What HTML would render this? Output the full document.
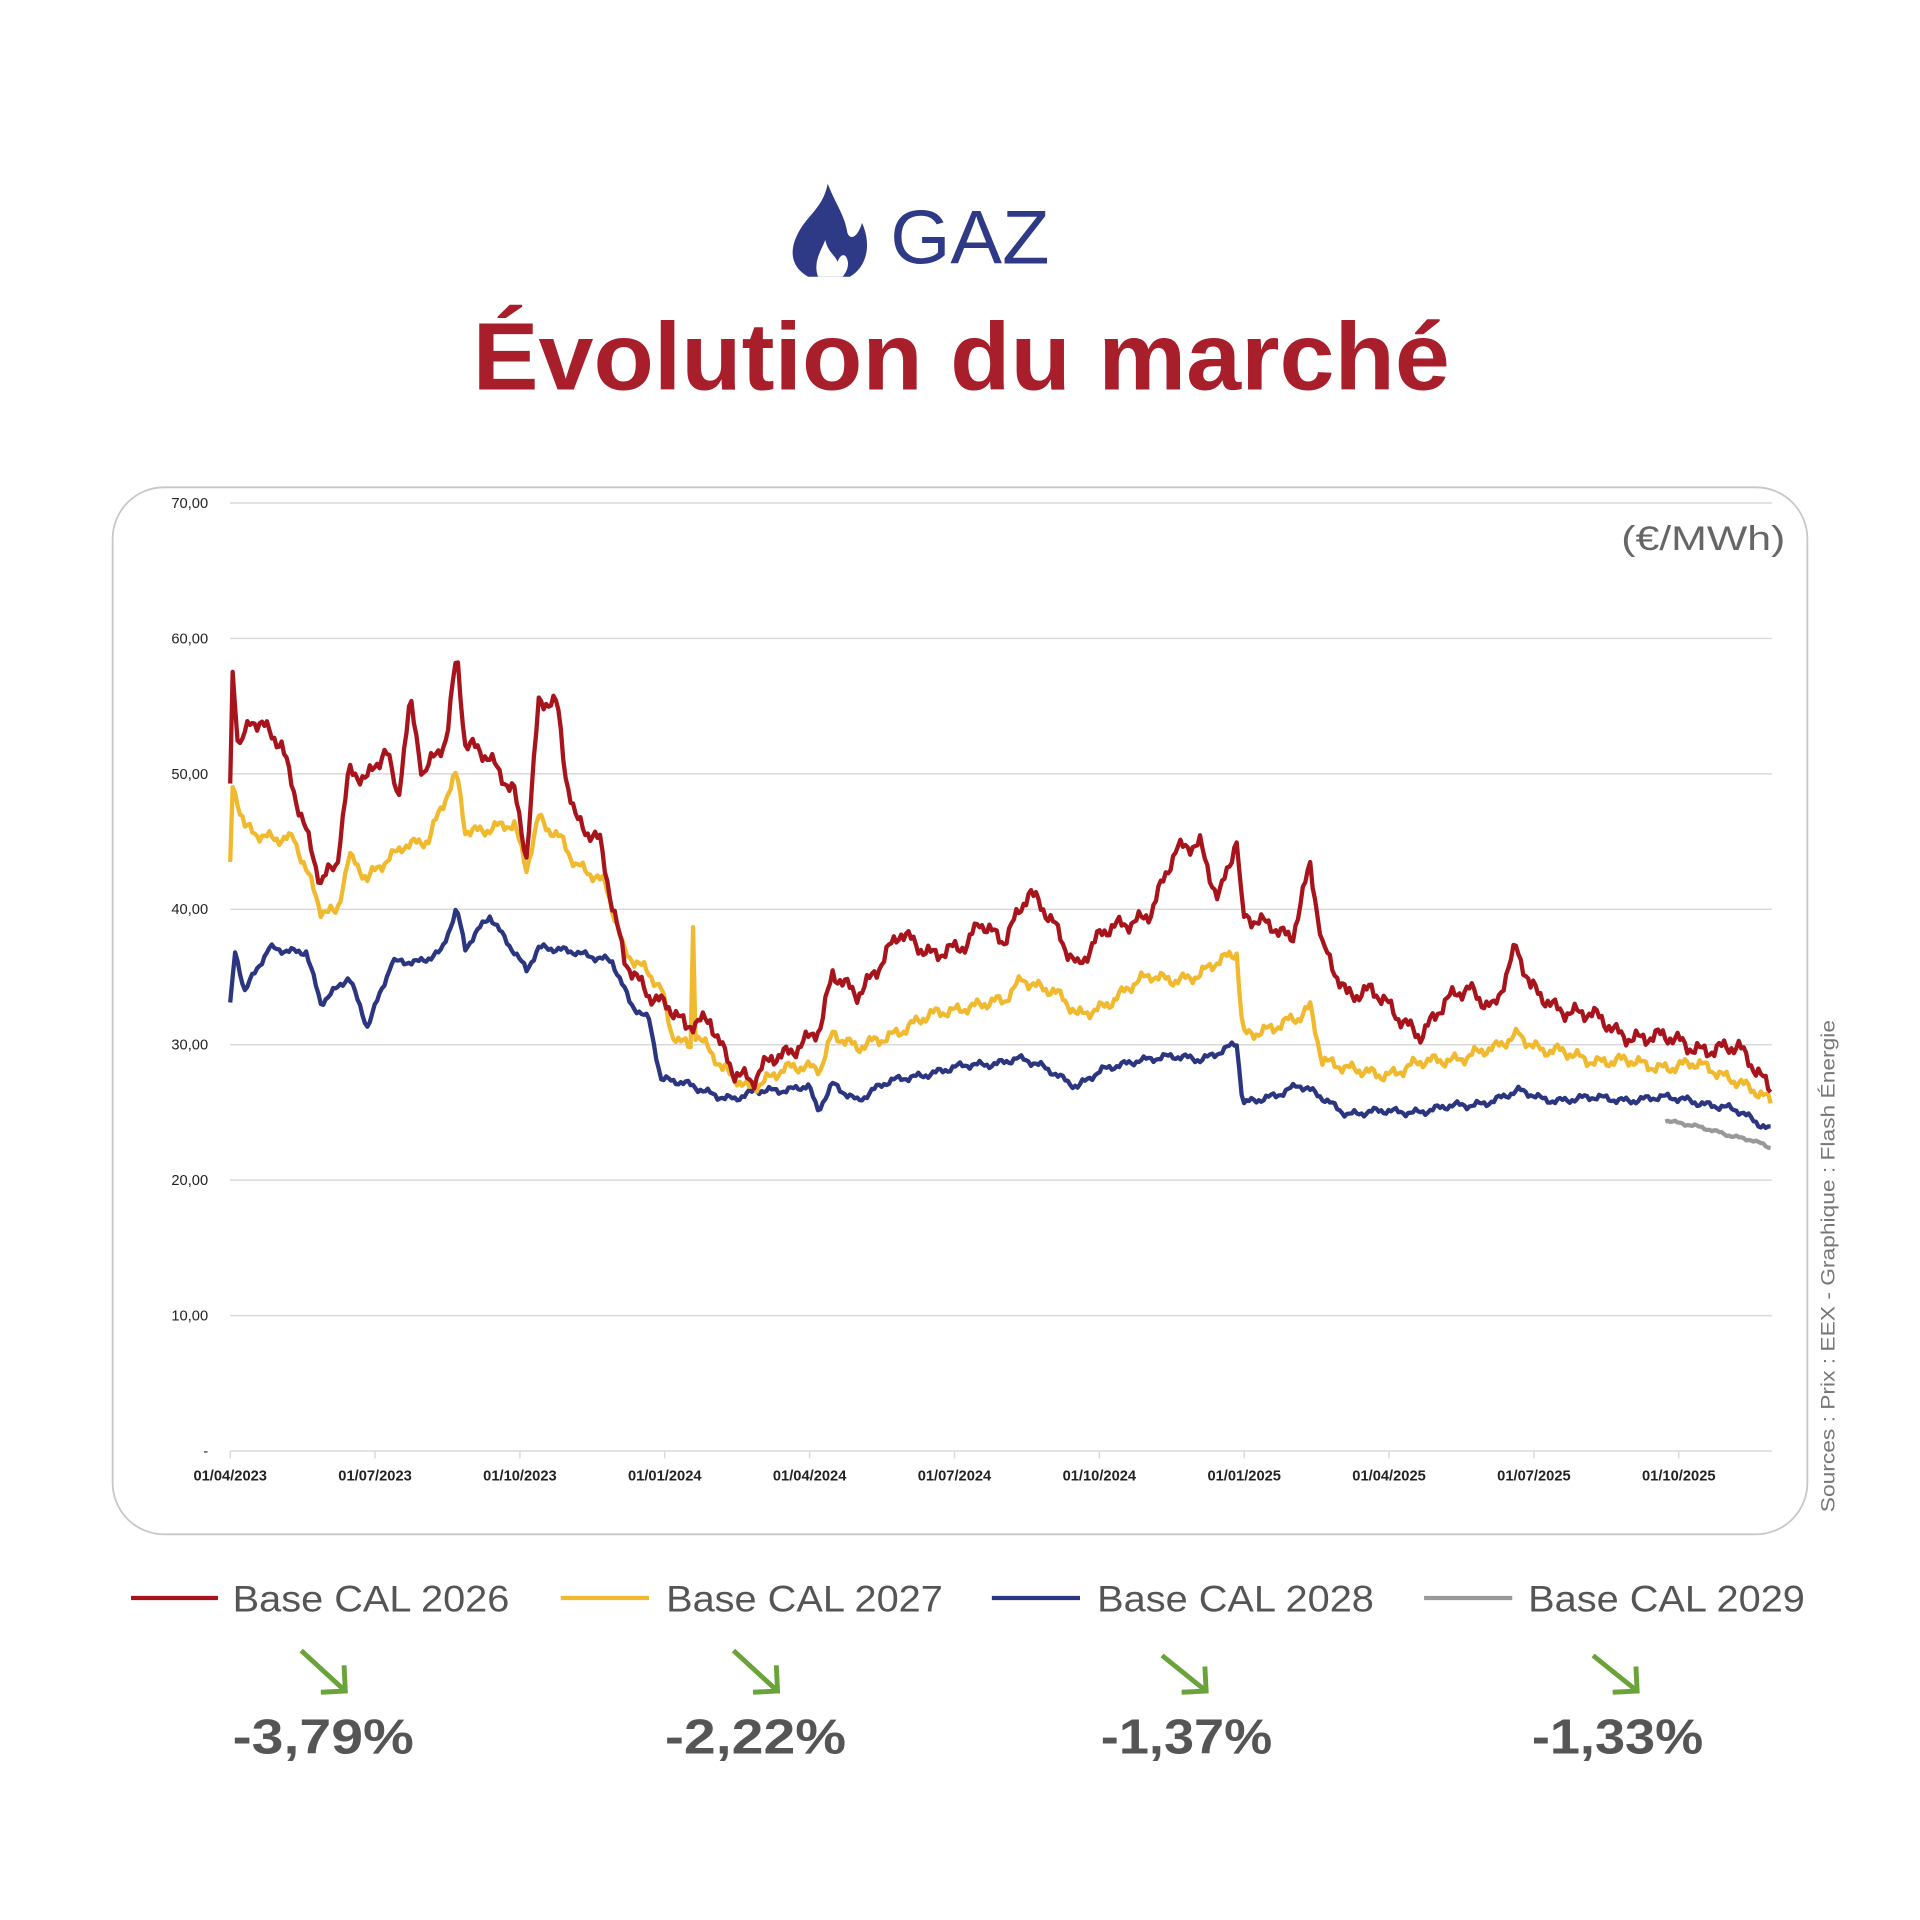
<!DOCTYPE html>
<html><head><meta charset="utf-8"><style>
html,body{margin:0;padding:0;background:#fff;width:1920px;height:1920px;overflow:hidden}
svg{display:block}
</style></head><body>
<svg id="s" width="1920" height="1920" viewBox="0 0 1568 1568" xmlns="http://www.w3.org/2000/svg" font-family="Liberation Sans, sans-serif">
<rect width="1568" height="1568" fill="#fff"/>
<path d="M676 150 C672 170 660 175 652 190 C644 205 646 218 660 226 L694 226 C708 218 712 200 704 182 C700 195 694 196 692 190 C690 176 682 166 676 150 Z" fill="#2e3a85"/>
<path d="M668 226 C664 214 670 206 674 196 C676 206 682 208 684 214 C686 208 690 206 692 212 C694 218 690 224 688 226 Z" fill="#fff"/>
<text x="727" y="215" font-size="62" fill="#2e3a85" textLength="130" lengthAdjust="spacingAndGlyphs">GAZ</text>
<text x="386" y="318" font-size="78" fill="#a81e2a" font-weight="bold" textLength="798" lengthAdjust="spacingAndGlyphs">Évolution du marché</text>
<rect x="92" y="398" width="1384" height="855" rx="42" fill="none" stroke="#c8c8c8" stroke-width="1.5"/>
<g id="grid" stroke="#d9d9d9" stroke-width="1.2"></g>
<g id="ylab" font-size="12" fill="#222" text-anchor="end"></g>
<g id="xlab" font-size="12" fill="#222" text-anchor="middle" font-weight="bold"></g>
<text x="1458" y="449" font-size="28" fill="#666" text-anchor="end" textLength="134" lengthAdjust="spacingAndGlyphs">(€/MWh)</text>
<text transform="translate(1498,1235) rotate(-90)" font-size="16" fill="#777" textLength="402" lengthAdjust="spacingAndGlyphs">Sources : Prix : EEX - Graphique : Flash Énergie</text>
<g id="series" fill="none" stroke-width="3.5" stroke-linejoin="round"></g>
<g font-size="30" fill="#555">
<line x1="107" y1="1305" x2="178" y2="1305" stroke="#a8141c" stroke-width="3.5"/><text x="190" y="1316" textLength="226" lengthAdjust="spacingAndGlyphs">Base CAL 2026</text>
<line x1="458" y1="1305" x2="530" y2="1305" stroke="#f0b92e" stroke-width="3.5"/><text x="544" y="1316" textLength="226" lengthAdjust="spacingAndGlyphs">Base CAL 2027</text>
<line x1="810" y1="1305" x2="882" y2="1305" stroke="#2b3580" stroke-width="3.5"/><text x="896" y="1316" textLength="226" lengthAdjust="spacingAndGlyphs">Base CAL 2028</text>
<line x1="1163" y1="1305" x2="1235" y2="1305" stroke="#999" stroke-width="3.5"/><text x="1248" y="1316" textLength="226" lengthAdjust="spacingAndGlyphs">Base CAL 2029</text>
</g>
<g stroke="#6aa33a" stroke-width="4" fill="none">
<path d="M246 1348 L282 1381 M262 1382 L282 1381 L281 1360"/>
<path d="M599 1348 L635 1381 M615 1382 L635 1381 L634 1360"/>
<path d="M949 1352 L985 1381 M965 1382 L985 1381 L984 1361"/>
<path d="M1301 1352 L1337 1381 M1317 1382 L1337 1381 L1336 1361"/>
</g>
<g font-size="40" font-weight="bold" fill="#555">
<text x="190" y="1432" textLength="148" lengthAdjust="spacingAndGlyphs">-3,79%</text>
<text x="543" y="1432" textLength="148" lengthAdjust="spacingAndGlyphs">-2,22%</text>
<text x="899" y="1432" textLength="140" lengthAdjust="spacingAndGlyphs">-1,37%</text>
<text x="1251" y="1432" textLength="140" lengthAdjust="spacingAndGlyphs">-1,33%</text>
</g>
</svg>
<script>
const NS="http://www.w3.org/2000/svg";
function el(t,a,p,txt){const e=document.createElementNS(NS,t);for(const k in a)e.setAttribute(k,a[k]);if(txt)e.textContent=txt;p.appendChild(e);return e;}
const Y=v=>1185-v*11.06;
const grid=document.getElementById('grid'),yl=document.getElementById('ylab'),xl=document.getElementById('xlab');
for(let i=0;i<=7;i++){const y=Y(i*10);el('line',{x1:188,x2:1447,y1:y,y2:y},grid);el('text',{x:170,y:y+4},yl,i?(i*10)+',00':'-');}
const dates=['01/04/2023','01/07/2023','01/10/2023','01/01/2024','01/04/2024','01/07/2024','01/10/2024','01/01/2025','01/04/2025','01/07/2025','01/10/2025'];
dates.forEach((d,i)=>{const x=188+i*118.3;el('line',{x1:x,x2:x,y1:1185,y2:1191},grid);el('text',{x:x,y:1209},xl,d);});
function ser(k,amp,col,seed){
 const g=document.getElementById('series');let pts=[];
 for(let x=k[0][0];x<=k[k.length-1][0];x+=2){
  let j=0;while(j<k.length-2&&k[j+1][0]<x)j++;
  const [x0,v0]=k[j],[x1,v1]=k[j+1];const t=Math.min(1,Math.max(0,(x-x0)/(x1-x0)));
  const n=Math.sin(x*0.37+seed)*0.5+Math.sin(x*1.13+seed*2)*0.35+Math.sin(x*0.11+seed*3)*0.4;
  const v=v0+(v1-v0)*t+n*amp;pts.push(x+','+Y(v).toFixed(1));}
 el('polyline',{points:pts.join(' '),stroke:col},g);}
const red=[[188,50],[190,58],[195,52],[205,54],[230,52],[250,46],[262,42],[275,43],[285,50],[300,50],[315,52],[325,48],[335,55],[345,50],[365,53],[373,59],[380,52],[400,51],[420,49],[430,44],[440,55],[455,55],[462,50],[470,47],[490,45],[500,40],[510,36],[530,34],[545,33],[560,31],[580,32],[600,28],[615,27],[630,29],[650,30],[670,31],[680,35],[700,34],[720,36],[735,38],[760,37],[790,37],[800,39],[820,38],[840,41],[860,39],[880,36],[900,38],[920,39],[940,40],[960,44],[980,45],[995,41],[1010,45],[1015,39],[1040,39],[1055,38],[1070,43],[1080,37],[1100,34],[1120,34],[1140,32],[1160,31],[1180,33],[1200,34],[1220,33],[1238,37],[1250,34],[1270,33],[1300,32],[1320,31],[1350,30.5],[1380,30],[1420,29.5],[1447,27]];
const yel=[[188,43],[190,49],[200,46],[240,45],[262,40],[275,40],[285,44],[300,42],[330,45],[350,45],[373,50],[380,46],[420,46],[430,43],[440,47],[460,45],[470,43],[495,42],[510,37],[540,34],[548,31],[564,30],[566,39],[568,31],[590,28],[610,27],[640,28],[670,28.5],[680,31],[700,29.5],[730,31],[760,32],[790,33],[820,33],[835,35],[860,34],[880,32],[900,33],[940,35],[980,35],[1010,37],[1015,31],[1040,31],[1060,32],[1070,33],[1080,29],[1100,28],[1140,28],[1180,29],[1220,29.5],[1240,31],[1260,29.5],[1300,29],[1340,28.5],[1380,28.5],[1420,27.5],[1447,25.5]];
const blu=[[188,33],[192,37],[200,34],[220,37],[250,37],[262,33],[275,34],[285,35],[300,31.5],[320,36],[340,36],[360,37],[373,40],[380,37],[400,39.5],[420,37],[430,35.5],[440,37],[470,37],[500,36],[515,33],[530,32],[540,27.5],[560,27],[600,26],[620,26.5],[660,27],[668,25],[680,27],[700,26],[720,27],[760,28],[800,28.5],[830,29],[860,28],[880,27],[900,28],[930,29],[980,29],[1010,30],[1015,25.5],[1060,27],[1080,26],[1100,25],[1140,25],[1200,25.5],[1240,26.5],[1260,26],[1300,26],[1340,26],[1380,26],[1420,25],[1447,23.8]];
const gry=[[1360,24.5],[1400,23.6],[1430,23],[1447,22.3]];
ser(gry,0.15,'#999',4);ser(blu,0.35,'#2b3580',1);ser(yel,0.6,'#f0b92e',2);ser(red,0.8,'#a8141c',3);
</script>
</body></html>
